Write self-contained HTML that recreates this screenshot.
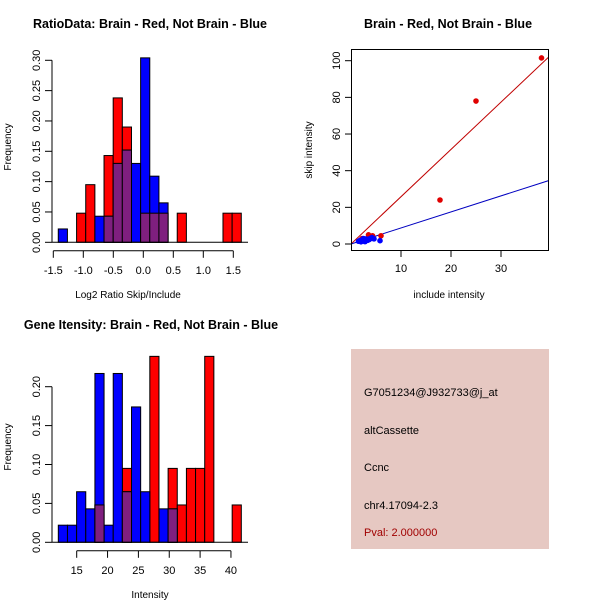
<!DOCTYPE html>
<html><head><meta charset="utf-8"><style>
body{margin:0;background:#fff}
svg{display:block;font-family:"Liberation Sans",sans-serif}
</style></head><body>
<svg id="s" width="600" height="600">
<rect width="600" height="600" fill="#fff"/>
<text x="150" y="28" text-anchor="middle" font-weight="bold" font-size="12.5">RatioData: Brain - Red, Not Brain - Blue</text>
<text x="128" y="298" text-anchor="middle" font-size="10">Log2 Ratio Skip/Include</text>
<text transform="translate(11,147) rotate(-90)" text-anchor="middle" font-size="10">Frequency</text>
<text x="448" y="28" text-anchor="middle" font-weight="bold" font-size="12.5">Brain - Red, Not Brain - Blue</text>
<text x="449" y="298" text-anchor="middle" font-size="10">include intensity</text>
<text transform="translate(312,150) rotate(-90)" text-anchor="middle" font-size="10">skip intensity</text>
<text x="151" y="329" text-anchor="middle" font-weight="bold" font-size="12.5">Gene Itensity: Brain - Red, Not Brain - Blue</text>
<text x="150" y="598" text-anchor="middle" font-size="10">Intensity</text>
<text transform="translate(11,447) rotate(-90)" text-anchor="middle" font-size="10">Frequency</text>
<g>
<rect x="351" y="349" width="198" height="200" fill="#e6c8c2"/>
<g font-size="11">
<text x="364" y="396">G7051234@J932733@j_at</text>
<text x="364" y="434">altCassette</text>
<text x="364" y="471">Ccnc</text>
<text x="364" y="509">chr4.17094-2.3</text>
<text x="364" y="536" fill="#a00000">Pval: 2.000000</text>
</g></g>
</svg>
<script>
// ratio histogram data
const ratioStart = -1.417;
const ratioBinWidth = 0.1525;
const ratioBlue = [0.022,0,0,0,0.043,0.043,0.13,0.152,0.13,0.304,0.109,0.065,0,0,0,0,0,0,0,0];
const ratioRed  = [0,0,0.048,0.095,0,0.143,0.238,0.19,0,0.048,0.048,0.048,0,0.048,0,0,0,0,0.048,0.048];
const ratioXTicks = [-1.5,-1.0,-0.5,0.0,0.5,1.0,1.5];
const ratioXLabels = ["-1.5","-1.0","-0.5","0.0","0.5","1.0","1.5"];
const ratioYTicks = [0,0.05,0.10,0.15,0.20,0.25,0.30];
const ratioYLabels = ["0.00","0.05","0.10","0.15","0.20","0.25","0.30"];
// intensity histogram data
const intStart = 12.02;
const intBinWidth = 1.483;
const intBlue = [0.022,0.022,0.065,0.043,0.217,0.022,0.217,0.065,0.174,0.065,0,0.043,0.043,0,0,0,0,0,0,0];
const intRed  = [0,0,0,0,0.048,0,0,0.095,0,0,0.239,0,0.095,0.048,0.095,0.095,0.239,0,0,0.048];
const intXTicks = [15,20,25,30,35,40];
const intXLabels = ["15","20","25","30","35","40"];
const intYTicks = [0,0.05,0.10,0.15,0.20];
const intYLabels = ["0.00","0.05","0.10","0.15","0.20"];
// scatter data
const redX = [38.1,25,17.8,6,3.5,4.3,2.2];
const redY = [101.5,78,24,4.5,5,4.5,3];
const blueX = [1.5,2,2.3,2.6,3,3.3,3.8,4.2,4.6,5.8,2.8,3.6,4,1.8,2.5];
const blueY = [1.5,1.2,2,2.5,2.8,2,3,3.5,2.8,1.8,1.3,2.4,3,2,3];
const redSlope = 2.58, blueSlope = 0.875;
const scXTicks = [10,20,30];
const scYTicks = [0,20,40,60,80,100];

const NS="http://www.w3.org/2000/svg", svg=document.getElementById('s');
function mk(tag,attrs,parent){const e=document.createElementNS(NS,tag);for(const k in attrs)e.setAttribute(k,attrs[k]);(parent||svg).appendChild(e);return e;}

function hist(cfg){
  const g=mk('g',{});
  
  
  const X=v=>cfg.x0+(v-cfg.xv0)*cfg.xs, Y=v=>cfg.y0-v*cfg.ys;
  const bar=(i,v,col,nm)=>{ if(v<=0)return;
    const a=cfg.start+i*cfg.w, r=mk('rect',{x:X(a),y:Y(v),width:X(a+cfg.w)-X(a),height:Y(0)-Y(v),fill:col,stroke:'#000','stroke-width':1},g);
    
    };
  cfg.red.forEach((v,i)=>bar(i,v,'#ff0000','red-bar'));
  cfg.blue.forEach((v,i)=>bar(i,v,'#0000ff','blue-bar'));
  cfg.red.forEach((v,i)=>bar(i,Math.min(v,cfg.blue[i]),'#7f1f7f','overlap-bar'));
  mk('line',{x1:52,x2:248,y1:Y(0),y2:Y(0),stroke:'#000'},g);
  const xa=mk('g',{},g);
  
  
  const ay=cfg.y0+8.5;
  mk('line',{x1:X(cfg.xt[0]),x2:X(cfg.xt[cfg.xt.length-1]),y1:ay,y2:ay,stroke:'#000'},xa);
  cfg.xt.forEach((t,i)=>{mk('line',{x1:X(t),x2:X(t),y1:ay,y2:ay+7,stroke:'#000'},xa);
    const tx=mk('text',{x:X(t),y:ay+23,'text-anchor':'middle','font-size':11},xa);tx.textContent=cfg.xl[i];});
  const ya=mk('g',{},g);
  
  
  mk('line',{x1:52,x2:52,y1:Y(0),y2:Y(cfg.yt[cfg.yt.length-1]),stroke:'#000'},ya);
  cfg.yt.forEach((t,i)=>{mk('line',{x1:45,x2:52,y1:Y(t),y2:Y(t),stroke:'#000'},ya);
    const tx=mk('text',{transform:`translate(40,${Y(t)}) rotate(-90)`,'text-anchor':'middle','font-size':11},ya);tx.textContent=cfg.yl[i];});
}
hist({name:'ratio-histogram',x0:53.3,xv0:-1.5,xs:60,y0:242.3,ys:606.7,start:ratioStart,w:ratioBinWidth,red:ratioRed,blue:ratioBlue,xt:ratioXTicks,xl:ratioXLabels,yt:ratioYTicks,yl:ratioYLabels});
hist({name:'intensity-histogram',x0:76.7,xv0:15,xs:6.17,y0:542.3,ys:778,start:intStart,w:intBinWidth,red:intRed,blue:intBlue,xt:intXTicks,xl:intXLabels,yt:intYTicks,yl:intYLabels});

// scatter
const sg=mk('g',{});


const SX=v=>351+v*5, SY=v=>244-v*1.833;
const cp=mk('clipPath',{id:'cp'},sg);
mk('rect',{x:352,y:50,width:196,height:200},cp);
const rl=mk('line',{x1:SX(0),y1:SY(0),x2:SX(40),y2:SY(40*redSlope),stroke:'#c00000','clip-path':'url(#cp)'},sg);


const bl=mk('line',{x1:SX(0),y1:SY(0),x2:SX(40),y2:SY(40*blueSlope),stroke:'#0000c0','clip-path':'url(#cp)'},sg);


redX.forEach((x,i)=>{const c=mk('circle',{cx:SX(x),cy:SY(redY[i]),r:2.8,fill:'#e00000'},sg);
  
  });
blueX.forEach((x,i)=>{const c=mk('circle',{cx:SX(x),cy:SY(blueY[i]),r:2.8,fill:'#0000ff'},sg);
  
  });
const box=mk('rect',{x:351.5,y:49.5,width:197,height:201,fill:'none',stroke:'#000'},sg);


scXTicks.forEach(t=>{mk('line',{x1:SX(t),x2:SX(t),y1:250.5,y2:257,stroke:'#000'},sg);
  const tx=mk('text',{x:SX(t),y:272,'text-anchor':'middle','font-size':11},sg);tx.textContent=t;});
scYTicks.forEach(t=>{mk('line',{x1:345,x2:351.5,y1:SY(t),y2:SY(t),stroke:'#000'},sg);
  const tx=mk('text',{transform:`translate(340,${SY(t)}) rotate(-90)`,'text-anchor':'middle','font-size':11},sg);tx.textContent=t;});
</script>
</body></html>
